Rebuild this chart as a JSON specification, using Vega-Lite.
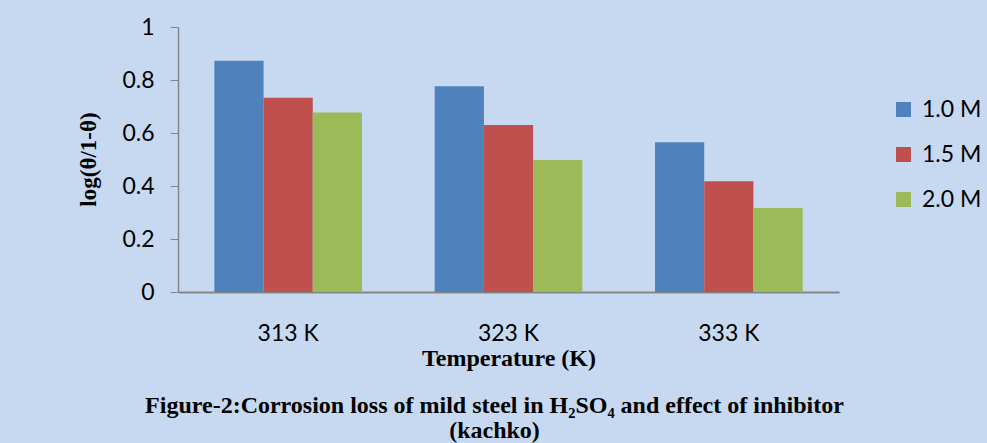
{
  "$schema": "https://vega.github.io/schema/vega-lite/v6.json",
  "autosize": {"type": "none"},
  "padding": {"left": 178, "top": 27, "right": 148, "bottom": 151},
  "width": 661,
  "height": 265,
  "background": "#c6d9f0",
  "title": {
    "text": ["Figure-2:Corrosion loss of mild steel in H₂SO₄ and effect of inhibitor", "(kachko)"],
    "orient": "bottom",
    "anchor": "middle",
    "font": "Liberation Serif",
    "fontSize": 24,
    "fontWeight": "bold",
    "color": "#000000",
    "lineHeight": 25,
    "offset": 24,
    "dx": -14
  },
  "data": {
    "values": [
      {"temp": "313 K", "conc": "1.0 M", "value": 0.873},
      {"temp": "313 K", "conc": "1.5 M", "value": 0.733},
      {"temp": "313 K", "conc": "2.0 M", "value": 0.677},
      {"temp": "323 K", "conc": "1.0 M", "value": 0.776},
      {"temp": "323 K", "conc": "1.5 M", "value": 0.630},
      {"temp": "323 K", "conc": "2.0 M", "value": 0.498},
      {"temp": "333 K", "conc": "1.0 M", "value": 0.565},
      {"temp": "333 K", "conc": "1.5 M", "value": 0.418},
      {"temp": "333 K", "conc": "2.0 M", "value": 0.317}
    ]
  },
  "mark": {"type": "bar"},
  "encoding": {
    "x": {
      "field": "temp",
      "type": "nominal",
      "scale": {"paddingInner": 0.33, "paddingOuter": 0.165},
      "axis": {
        "title": "Temperature (K)",
        "titleFont": "Liberation Serif",
        "titleFontSize": 24,
        "titleFontWeight": "bold",
        "titleColor": "#000000",
        "titleBaseline": "middle",
        "titleY": 66,
        "labelAngle": 0,
        "labelFont": "Lato",
        "labelFontSize": 23,
        "labelColor": "#000000",
        "labelPadding": 30,
        "ticks": false,
        "domainColor": "#868686",
        "domainWidth": 2
      }
    },
    "xOffset": {
      "field": "conc",
      "type": "nominal",
      "scale": {"paddingInner": 0, "paddingOuter": 0}
    },
    "y": {
      "field": "value",
      "type": "quantitative",
      "scale": {"domain": [0, 1], "nice": false},
      "axis": {
        "values": [0, 0.2, 0.4, 0.6, 0.8, 1],
        "labelExpr": "'' + datum.value",
        "grid": false,
        "title": "log(θ/1-θ)",
        "titleFont": "Liberation Serif",
        "titleFontSize": 23,
        "titleFontWeight": "bold",
        "titleColor": "#000000",
        "titleX": -90,
        "titleY": 132,
        "titleAlign": "center",
        "titleBaseline": "middle",
        "titleAngle": 270,
        "labelFont": "Lato",
        "labelFontSize": 23,
        "labelColor": "#000000",
        "labelPadding": 16,
        "tickSize": 8,
        "tickColor": "#868686",
        "domainColor": "#868686",
        "domainWidth": 1.5
      }
    },
    "color": {
      "field": "conc",
      "type": "nominal",
      "scale": {"domain": ["1.0 M", "1.5 M", "2.0 M"], "range": ["#4f81bd", "#c0504d", "#9bbb59"]},
      "legend": {
        "title": null,
        "orient": "none",
        "legendX": 714,
        "legendY": 71,
        "symbolType": "square",
        "symbolSize": 225,
        "symbolStrokeWidth": 0,
        "labelFont": "Lato",
        "labelFontSize": 23,
        "labelColor": "#000000",
        "labelOffset": 7,
        "rowPadding": 21
      }
    }
  },
  "config": {"view": {"stroke": null}}
}
